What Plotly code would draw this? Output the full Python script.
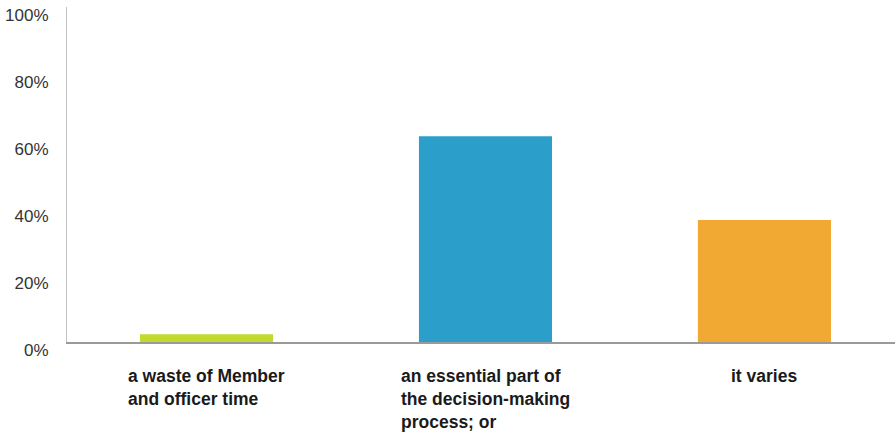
import plotly.graph_objects as go

categories = ["a waste of Member<br>and officer time",
              "an essential part of<br>the decision-making<br>process; or",
              "it varies"]
values = [2.3, 61.4, 36.4]
colors = ["#c2d92e", "#2b9fca", "#f2a933"]
tick_vals = [0, 20, 40, 60, 80, 100]
tick_text = ["0%", "20%", "40%", "60%", "80%", "100%"]

x_idx = list(range(len(categories)))

fig = go.Figure()
fig.add_trace(go.Bar(x=x_idx, y=values, marker=dict(color=colors, line=dict(width=0)),
                     width=0.477, showlegend=False, hoverinfo="skip"))

for i, c in enumerate(categories):
    fig.add_annotation(x=i, y=0, xref="x", yref="y", text=c, showarrow=False,
                       xanchor="center", yanchor="top", align="left", yshift=-22,
                       font=dict(family="Liberation Sans, Arial, sans-serif", size=17.5,
                                 color="#1a1a1a", weight="bold"))

fig.update_layout(
    width=895, height=437,
    margin=dict(l=67, r=0, t=7, b=95, autoexpand=False),
    paper_bgcolor="white", plot_bgcolor="white",
    font=dict(family="Liberation Sans, Arial, sans-serif"),
    xaxis=dict(range=[-0.5, 2.468], showticklabels=False, showgrid=False, zeroline=False,
               showline=True, linecolor="#9a9a9a", linewidth=1.5, ticks=""),
    yaxis=dict(range=[0, 100], tickvals=tick_vals, ticktext=tick_text, showgrid=False,
               zeroline=False, showline=True, linecolor="#c4c4c4", linewidth=1,
               ticks="", ticklabelshift=8, ticklabelstandoff=14,
               ticklabeloverflow="allow",
               tickfont=dict(size=17, color="#333333")),
)

fig.write_html("out.html", config={"displayModeBar": False},
               post_script="document.body.style.margin='0';")
